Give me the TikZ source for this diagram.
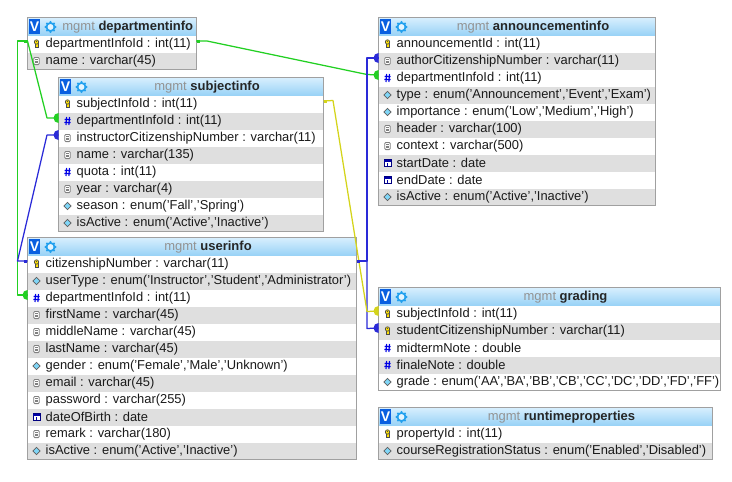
\documentclass[tikz,border=0pt]{standalone}
\usepackage{fontspec}
\setmainfont{Liberation Sans}
\definecolor{rowgrey}{HTML}{DFDFDF}
\definecolor{edgegrey}{HTML}{A0A0A0}
\definecolor{headtop}{HTML}{D8EFFE}
\definecolor{headbot}{HTML}{98D2F6}
\definecolor{vblue}{HTML}{0A5FE0}
\definecolor{gearblue}{HTML}{22A0EE}
\definecolor{txt}{HTML}{1A1A1A}
\definecolor{lgreen}{HTML}{22D022}
\definecolor{lblue}{HTML}{2A2AD8}
\definecolor{lyellow}{HTML}{D4D41A}
\newcounter{rowno}
\newlength{\tx}\newlength{\ty}\newlength{\tw}
\tikzset{
  rowtext/.style={anchor=west,inner sep=0pt,font=\fontsize{12.9}{13}\selectfont,text=txt},
  titletext/.style={anchor=center,inner sep=0pt,font=\fontsize{13}{13}\selectfont},
  link/.style={line width=1.25pt,line join=round},
  glink/.style={link,draw=lgreen},
  blink/.style={link,draw=lblue},
  ylink/.style={link,draw=lyellow}
}
% icons
\newcommand{\icKey}[1]{%
  \fill[yellow!85!orange,draw=black!70,line width=.7pt] (#1)++(-1.4,-.8) rectangle ++(2.8,4.6);
  \fill[yellow!85!orange,draw=black!70,line width=.7pt] (#1)++(0,-2) circle (2.2);
  \fill[black!70] (#1)++(0,-2.6) circle (.6);}
\newcommand{\icText}[1]{\draw[black!50,fill=white,line width=.8pt,rounded corners=1.2pt] (#1)++(-2.8,-3.6) rectangle ++(5.6,7.2);
  \draw[black!50,line width=.6pt] (#1)++(-1.5,-1.5)--++(3,0) (#1)++(-1.5,0)--++(3,0) (#1)++(-1.5,1.5)--++(3,0);}
\newcommand{\icNum}[1]{\draw[blue!90!black,line width=1.1pt] (#1)++(-.9,-4)--++(-.6,8) (#1)++(2,-4)--++(-.6,8) (#1)++(-3,-1.5)--++(6.2,0) (#1)++(-3.2,1.5)--++(6.2,0);}
\newcommand{\icEnum}[1]{\fill[gray!75!black] (#1)++(0,-4.2)--++(4.2,4.2)--++(-4.2,4.2)--++(-4.2,-4.2)--cycle;
  \fill[cyan!50!white] (#1)++(0,-2.9)--++(2.9,2.9)--++(-2.9,2.9)--++(-2.9,-2.9)--cycle;}
\newcommand{\icDate}[1]{\fill[white,draw=blue!50!black,line width=.7pt] (#1)++(-3.5,-3.5) rectangle ++(7,7);
  \fill[blue!65!black] (#1)++(-3.5,-3.5) rectangle ++(7,2.2);
  \fill[blue!65!black] (#1)++(-.7,-.3) rectangle ++(1.4,3);}
% half dot at a child row, small square at a parent row
\newcommand{\hdot}[2]{\fill[#1] (#2)++(0,5) arc (90:270:5) -- cycle;}
\newcommand{\sqmark}[3]{\fill[#1] (#2)++(#3-1.5,-1.5) rectangle ++(3,3);}
% \tbl{name}{x}{y}{w}{nrows}{title}
\newcommand{\tbl}[6]{%
  \setlength{\tx}{#2pt}\setlength{\ty}{#3pt}\setlength{\tw}{#4pt}%
  \setcounter{rowno}{0}%
  \def\tname{#1}%
  \shade[top color=headtop,bottom color=headbot] (#2,#3) rectangle (#2+#4,#3+18);
  \node[rectangle,minimum width=#4pt,minimum height=18+17*#5 pt,inner sep=0pt,anchor=north west,draw=none] (#1) at (#2,#3) {};
  \fill[vblue] (#2+1.5,#3+1.5) rectangle ++(11,15);
  \node[inner sep=0pt,font=\fontsize{14}{14}\bfseries\selectfont,text=white,anchor=center] (#1v) at (#2+7,#3+9.5) {V};
  \draw[gearblue,line width=1.8pt] (#2+23,#3+9.5) circle (4);
  \foreach \a in {0,45,...,315}{\fill[gearblue] (#2+23,#3+9.5)++(\a:4.9) circle (1.2);}
  \fill[white!30!headtop] (#2+23,#3+9.5) circle (2.8);
  \node[titletext] (#1t) at (#2+#4/2+16,#3+9.5) {\textcolor{gray!85}{mgmt} \textcolor{black!85}{\textbf{#6}}};
}
% \trow{icon macro}{text}
\newcommand{\trow}[2]{%
  \pgfmathsetmacro{\rx}{\tx/1pt}\pgfmathsetmacro{\ry}{\ty/1pt+18+17*\value{rowno}}\pgfmathsetmacro{\rw}{\tw/1pt}%
  \ifodd\value{rowno}\fill[rowgrey] (\rx,\ry) rectangle (\rx+\rw,\ry+17);\fi
  \coordinate (ic) at (\rx+9,\ry+8.5);
  #1{ic}
  \node[rowtext] (\tname r\arabic{rowno}) at (\rx+18,\ry+8.7) {#2};
  \coordinate (\tname L\arabic{rowno}) at (\rx,\ry+5.5);
  \coordinate (\tname R\arabic{rowno}) at (\rx+\rw,\ry+5.5);
  \stepcounter{rowno}%
}
\newcommand{\tend}[4]{\draw[edgegrey,line width=1pt] (#1,#2) rectangle (#1+#3,#2+#4);}
\begin{document}
\begin{tikzpicture}[x=1pt,y=-1pt]
\useasboundingbox (0,0) rectangle (732,482);
\fill[white] (0,0) rectangle (732,482);

\tbl{dept}{27.5}{17.5}{168.5}{2}{departmentinfo}
\trow{\icKey}{departmentInfoId : int(11)}
\trow{\icText}{name : varchar(45)}
\tend{27.5}{17.5}{168.5}{52}

\tbl{subj}{58.5}{77.5}{265}{8}{subjectinfo}
\trow{\icKey}{subjectInfoId : int(11)}
\trow{\icNum}{departmentInfoId : int(11)}
\trow{\icText}{instructorCitizenshipNumber : varchar(11)}
\trow{\icText}{name : varchar(135)}
\trow{\icNum}{quota : int(11)}
\trow{\icText}{year : varchar(4)}
\trow{\icEnum}{season : enum('Fall','Spring')}
\trow{\icEnum}{isActive : enum('Active','Inactive')}
\tend{58.5}{77.5}{265}{154}

\tbl{user}{27.5}{237.5}{329}{12}{userinfo}
\trow{\icKey}{citizenshipNumber : varchar(11)}
\trow{\icEnum}{userType : enum('Instructor','Student','Administrator')}
\trow{\icNum}{departmentInfoId : int(11)}
\trow{\icText}{firstName : varchar(45)}
\trow{\icText}{middleName : varchar(45)}
\trow{\icText}{lastName : varchar(45)}
\trow{\icEnum}{gender : enum('Female','Male','Unknown')}
\trow{\icText}{email : varchar(45)}
\trow{\icText}{password : varchar(255)}
\trow{\icDate}{dateOfBirth : date}
\trow{\icText}{remark : varchar(180)}
\trow{\icEnum}{isActive : enum('Active','Inactive')}
\tend{27.5}{237.5}{329}{222}

\tbl{ann}{378.5}{17.5}{277}{10}{announcementinfo}
\trow{\icKey}{announcementId : int(11)}
\trow{\icText}{authorCitizenshipNumber : varchar(11)}
\trow{\icNum}{departmentInfoId : int(11)}
\trow{\icEnum}{type : enum('Announcement','Event','Exam')}
\trow{\icEnum}{importance : enum('Low','Medium','High')}
\trow{\icText}{header : varchar(100)}
\trow{\icText}{context : varchar(500)}
\trow{\icDate}{startDate : date}
\trow{\icDate}{endDate : date}
\trow{\icEnum}{isActive : enum('Active','Inactive')}
\tend{378.5}{17.5}{277}{188}

\tbl{grad}{378.5}{287.5}{342}{5}{grading}
\trow{\icKey}{subjectInfoId : int(11)}
\trow{\icKey}{studentCitizenshipNumber : varchar(11)}
\trow{\icNum}{midtermNote : double}
\trow{\icNum}{finaleNote : double}
\trow{\icEnum}{grade : enum('AA','BA','BB','CB','CC','DC','DD','FD','FF')}
\tend{378.5}{287.5}{342}{103}

\tbl{run}{378.5}{407.5}{334}{2}{runtimeproperties}
\trow{\icKey}{propertyId : int(11)}
\trow{\icEnum}{courseRegistrationStatus : enum('Enabled','Disabled')}
\tend{378.5}{407.5}{334}{52}

% connectors
\coordinate (gj) at (17.5,41);
\coordinate (bj) at (17.5,261);
\coordinate (gr) at (207,41);
\coordinate (br) at (367,261);
\coordinate (yr) at (333,100.5);
\coordinate (gm) at (47,118);
\coordinate (bm) at (47,135);
\coordinate (gv) at (17.5,295);
\coordinate (gn) at (367,74.5);
\coordinate (bv) at (367,58);
\coordinate (bw) at (367,328.5);
\coordinate (yv) at (367,311.5);
\draw[glink] (deptL0) -- (gm) -- (subjL1);
\draw[glink] (deptL0) -- (gj) -- (gv) -- (userL2);
\draw[glink] (deptR0) -- (gr) -- (gn) -- (annL2);
\draw[blink] (userL0) -- (bj) -- (bm) -- (subjL2);
\draw[blink] (userR0) -- (br) -- (bv) -- (annL1);
\draw[blink] (br) -- (bw) -- (gradL1);
\draw[ylink] (subjR0) -- (yr) -- (yv) -- (gradL0);
\hdot{lgreen}{subjL1}
\hdot{lgreen}{userL2}
\hdot{lgreen}{annL2}
\hdot{lblue}{subjL2}
\hdot{lblue}{annL1}
\hdot{lblue}{gradL1}
\hdot{lyellow}{gradL0}
\sqmark{lgreen}{deptL0}{-2}
\sqmark{lgreen}{deptR0}{2}
\sqmark{lblue}{userL0}{-2}
\sqmark{lblue}{userR0}{2}
\sqmark{lyellow}{subjR0}{2}
\end{tikzpicture}
\end{document}
